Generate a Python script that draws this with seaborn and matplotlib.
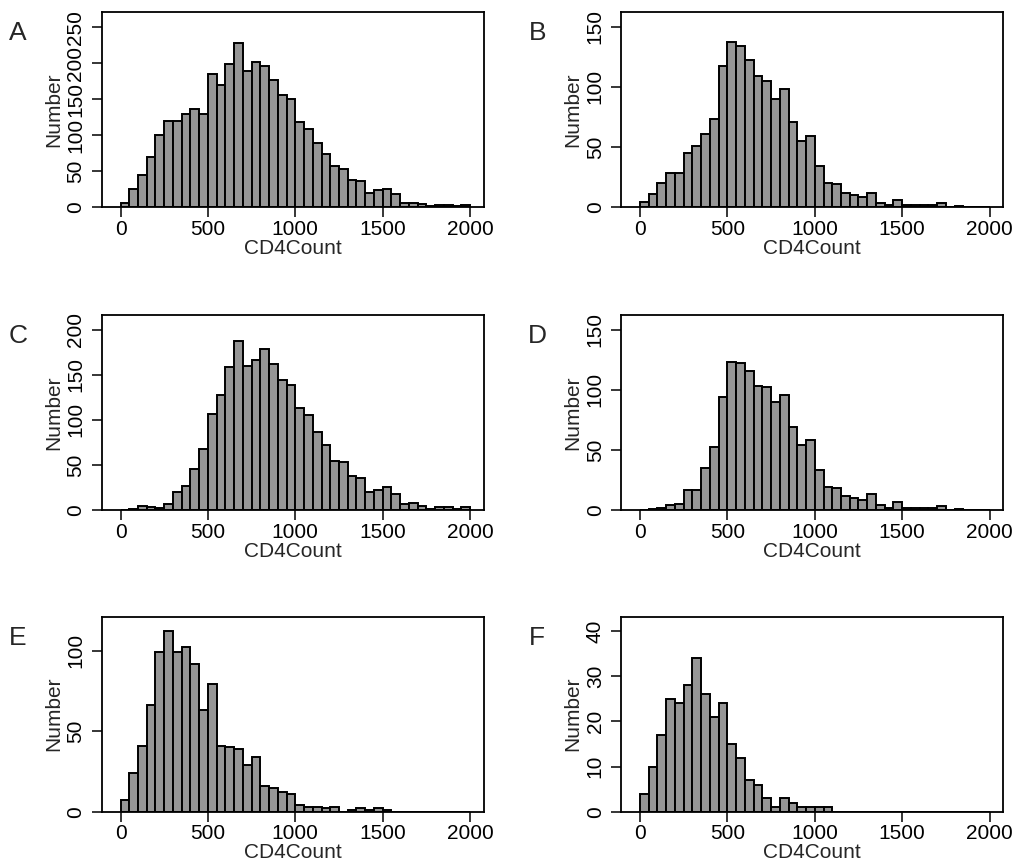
import numpy as np
import pandas as pd
import matplotlib.pyplot as plt
import seaborn as sns

# bins of width 50 from 0 to 2000
bin_edges = list(range(0, 2001, 50))

counts_a = [6, 25, 44, 69, 100, 119, 120, 129, 137, 130,
            185, 170, 199, 228, 189, 201, 196, 177, 156, 150,
            118, 108, 89, 74, 57, 53, 38, 36, 19, 23,
            25, 18, 5, 6, 4, 1, 3, 3, 1, 3]
counts_b = [4, 11, 20, 28, 28, 45, 51, 61, 73, 117,
            137, 134, 122, 109, 105, 90, 98, 71, 55, 59,
            34, 20, 19, 12, 10, 8, 12, 3, 2, 6,
            2, 2, 2, 2, 3, 0, 1, 0, 0, 0]
counts_c = [0, 1, 5, 3, 2, 7, 20, 27, 45, 68,
            106, 127, 158, 187, 160, 166, 179, 162, 144, 139,
            113, 105, 87, 72, 54, 53, 38, 35, 20, 22,
            26, 18, 7, 8, 5, 1, 3, 3, 1, 3]
counts_d = [0, 1, 2, 4, 5, 17, 17, 35, 52, 94,
            123, 122, 116, 103, 102, 90, 96, 69, 54, 58,
            33, 19, 18, 12, 10, 8, 13, 4, 2, 7,
            2, 2, 2, 2, 3, 0, 1, 0, 0, 0]
counts_e = [7, 24, 41, 66, 99, 112, 99, 102, 92, 63,
            79, 41, 40, 39, 29, 34, 16, 15, 12, 11,
            4, 3, 3, 2, 3, 0, 1, 2, 1, 2,
            1, 0, 0, 0, 0, 0, 0, 0, 0, 0]
counts_f = [4, 10, 17, 25, 24, 28, 34, 26, 21, 24,
            15, 12, 7, 6, 3, 1, 3, 2, 1, 1,
            1, 1, 0, 0, 0, 0, 0, 0, 0, 0,
            0, 0, 0, 0, 0, 0, 0, 0, 0, 0]

panel_labels = ["A", "B", "C", "D", "E", "F"]
panel_counts = [counts_a, counts_b, counts_c, counts_d, counts_e, counts_f]
y_tops = [271, 162, 216, 162, 121, 43.2]
y_steps = [50, 50, 50, 50, 50, 10]
x_ticks = [0, 500, 1000, 1500, 2000]


def main():
    sns.set_style("ticks")
    plt.rcParams['font.family'] = ['Liberation Sans', 'DejaVu Sans']

    fig = plt.figure(figsize=(10.16, 8.68), dpi=100)
    col_x = [0.1004, 0.6117]
    row_y = [0.7615, 0.4124, 0.0649]
    w, h = 0.3755, 0.2245

    centers = [e + 25 for e in bin_edges[:-1]]
    for i, (lab, counts) in enumerate(zip(panel_labels, panel_counts)):
        r, c = divmod(i, 2)
        ax = fig.add_axes([col_x[c], row_y[r], w, h])
        sns.histplot(x=centers, weights=counts, bins=bin_edges, ax=ax,
                     color="#969696", edgecolor="black", linewidth=1.4,
                     alpha=1)
        ax.set_xlim(-106, 2077)
        ax.set_ylim(0, y_tops[i])
        ax.set_xticks(x_ticks)
        yt = np.arange(0, y_tops[i], y_steps[i])
        ax.set_yticks(yt)
        ax.set_yticklabels([str(int(v)) for v in yt], rotation=90, va="center")
        ax.tick_params(direction="out", length=7, width=1.1, labelsize=15,
                       colors="black")
        ax.tick_params(axis="x", pad=2)
        ax.tick_params(axis="y", pad=5)
        for s in ax.spines.values():
            s.set_visible(True)
            s.set_linewidth(1.3)
            s.set_color("black")
        ax.set_xlabel("CD4Count", fontsize=15, labelpad=0)
        ax.set_ylabel("Number", fontsize=15, labelpad=2.5)
        fig.text(col_x[c] - 0.083, row_y[r] + h - 0.024, lab, fontsize=19,
                 ha="center", va="center")

    fig.savefig("out.png", dpi=100)


if __name__ == "__main__":
    main()
